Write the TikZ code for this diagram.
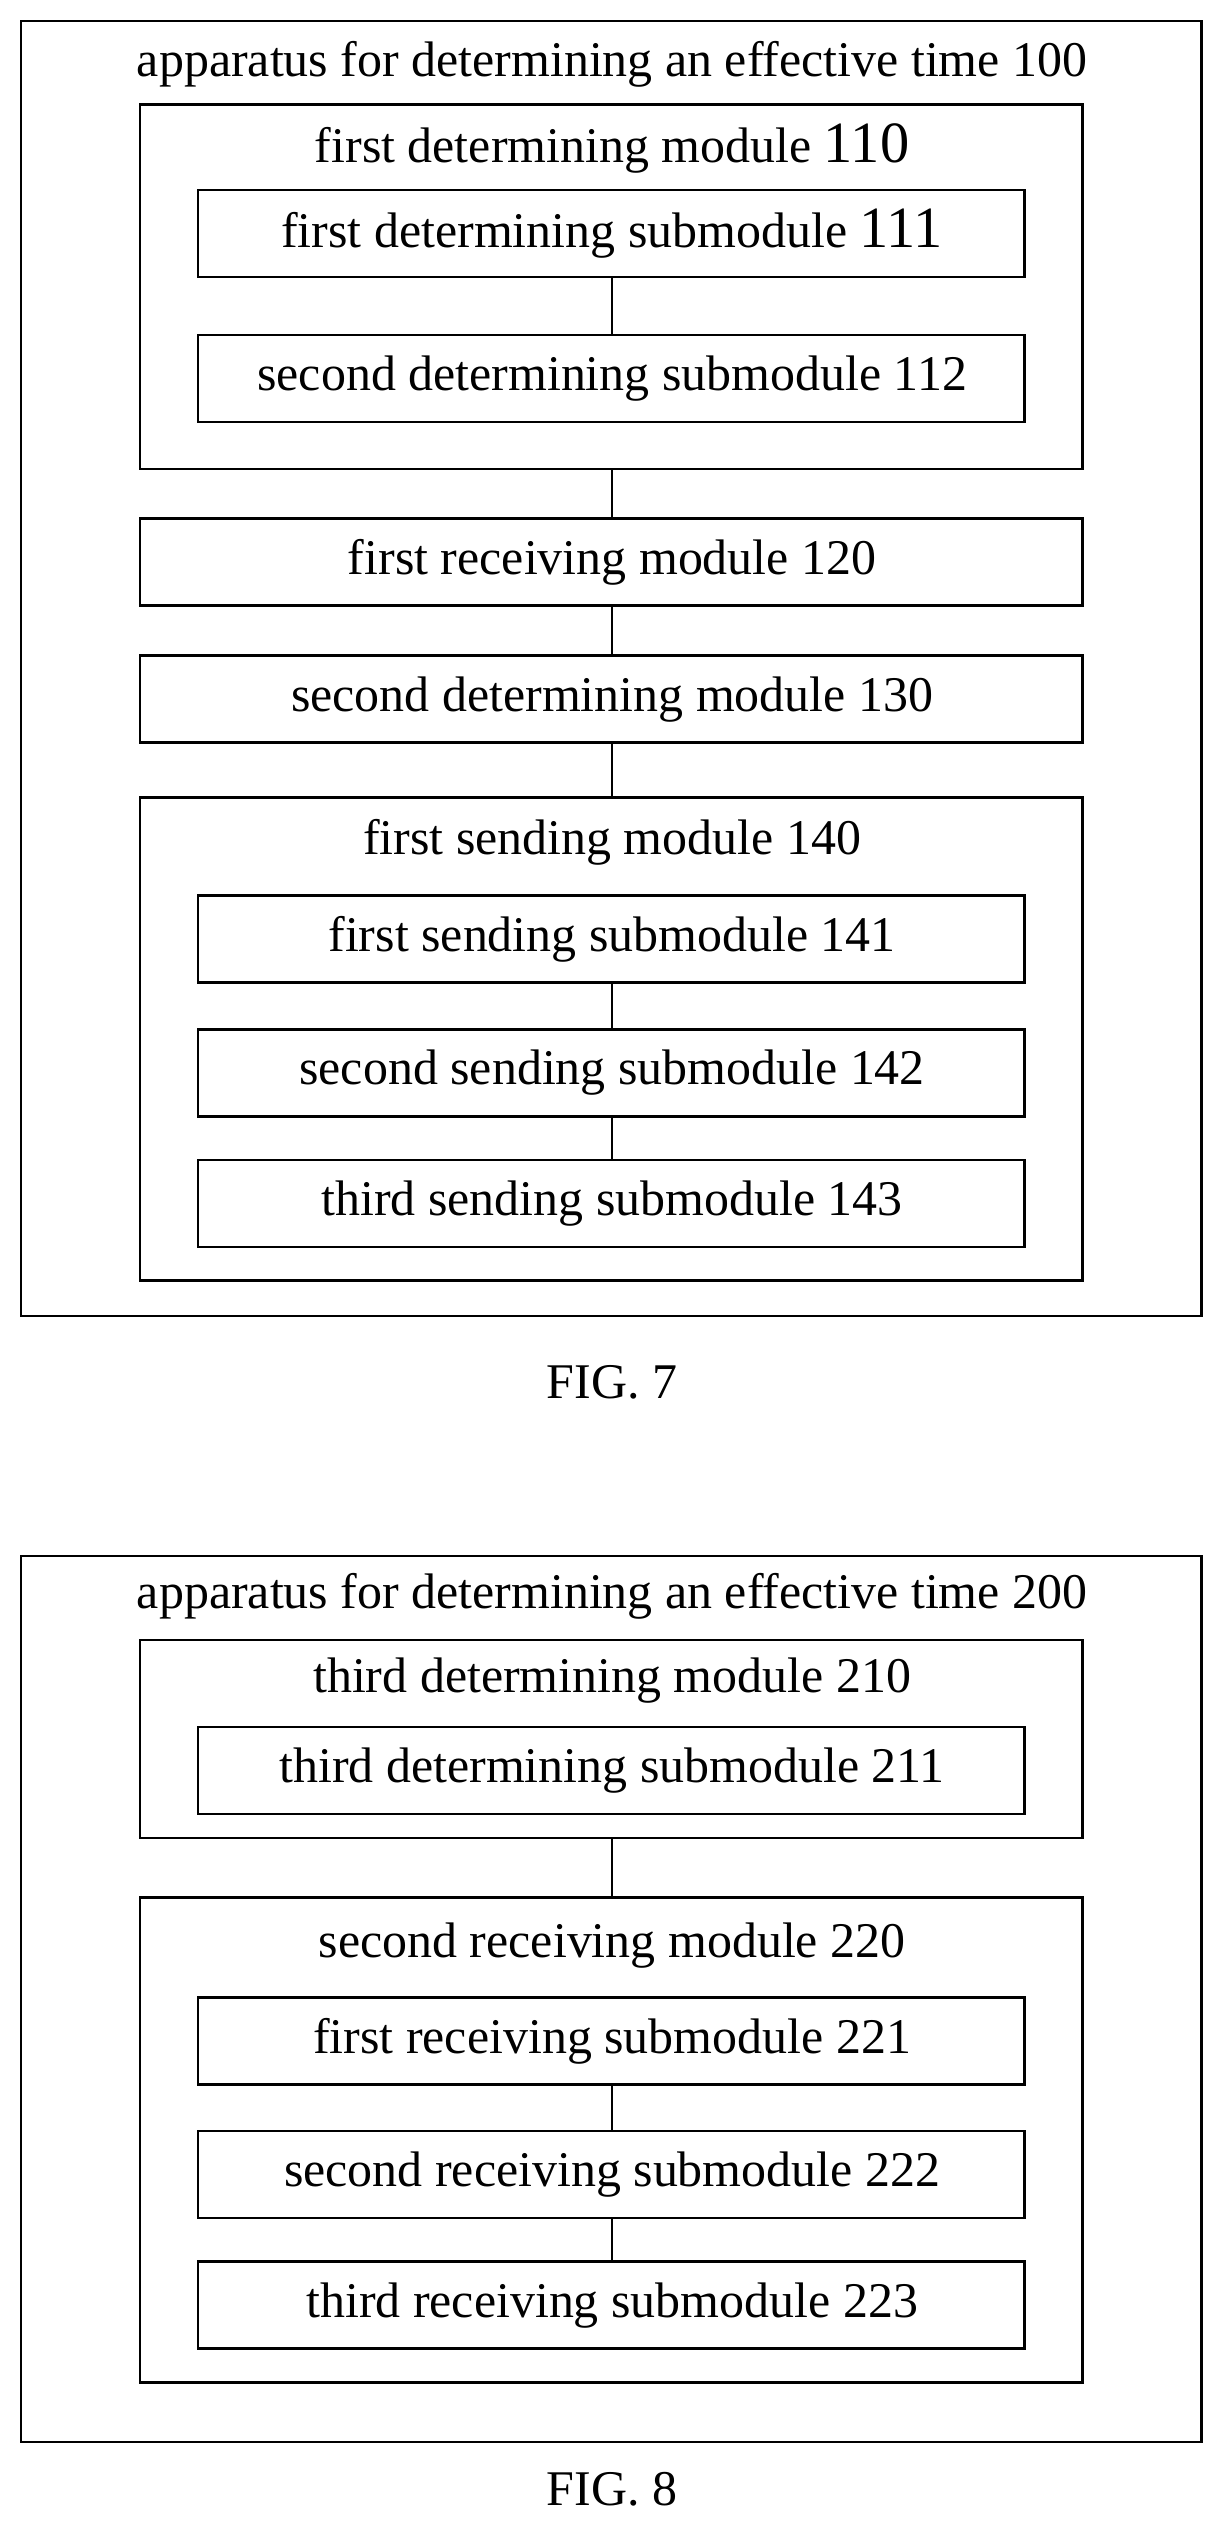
\documentclass[tikz,border=0pt]{standalone}
\usepackage{fontspec}
\setmainfont{Liberation Serif}
\begin{document}
\begin{tikzpicture}[x=0.8pt,y=-0.8pt,
  box/.style={draw,line width=1.2pt},
  lbl/.style={font=\fontsize{24.8}{28}\selectfont,inner sep=0pt},
  con/.style={line width=1.2pt}]
\useasboundingbox (0,0) rectangle (760,1570);
\newcommand{\bx}[6]{\draw[box] (#2,#3) rectangle (#4,#5); \coordinate (#1t) at (380,#3); \coordinate (#1b) at (380,#5); \node[lbl] (#1l) at (380,{(#3+#5)/2}) {#6};}
% FIG 7
\draw[box] (13,13) rectangle (746,817);
\node[lbl] (t1) at (380,40) {apparatus for determining an effective time 100};
\draw[box] (87,65) rectangle (672,291); \coordinate (m110t) at (380,65); \coordinate (m110b) at (380,291);
\node[lbl] (m110l) at (380,92) {first determining module {\fontsize{29}{32}\selectfont 110}};
\bx{s111}{123}{118}{636}{172}{first determining submodule {\fontsize{29}{32}\selectfont 111}}
\bx{s112}{123}{208}{636}{262}{second determining submodule 112}
\bx{m120}{87}{322}{672}{376}{first receiving module 120}
\bx{m130}{87}{407}{672}{461}{second determining module 130}
\draw[box] (87,495) rectangle (672,795); \coordinate (m140t) at (380,495);
\node[lbl] (m140l) at (380,523) {first sending module 140};
\bx{s141}{123}{556}{636}{610}{first sending submodule 141}
\bx{s142}{123}{639}{636}{693}{second sending submodule 142}
\bx{s143}{123}{720}{636}{774}{third sending submodule 143}
\draw[con] (s111b)--(s112t) (m110b)--(m120t) (m120b)--(m130t) (m130b)--(m140t) (s141b)--(s142t) (s142b)--(s143t);
\node[lbl] (f7) at (380,858) {FIG. 7};
% FIG 8
\draw[box] (13,966) rectangle (746,1516);
\node[lbl] (t2) at (380,991) {apparatus for determining an effective time 200};
\draw[box] (87,1018) rectangle (672,1141); \coordinate (m210b) at (380,1141);
\node[lbl] (m210l) at (380,1043) {third determining module 210};
\bx{s211}{123}{1072}{636}{1126}{third determining submodule 211}
\draw[box] (87,1178) rectangle (672,1479); \coordinate (m220t) at (380,1178);
\node[lbl] (m220l) at (380,1208) {second receiving module 220};
\bx{s221}{123}{1240}{636}{1294}{first receiving submodule 221}
\bx{s222}{123}{1323}{636}{1377}{second receiving submodule 222}
\bx{s223}{123}{1404}{636}{1458}{third receiving submodule 223}
\draw[con] (m210b)--(m220t) (s221b)--(s222t) (s222b)--(s223t);
\node[lbl] (f8) at (380,1545) {FIG. 8};
\end{tikzpicture}
\end{document}
